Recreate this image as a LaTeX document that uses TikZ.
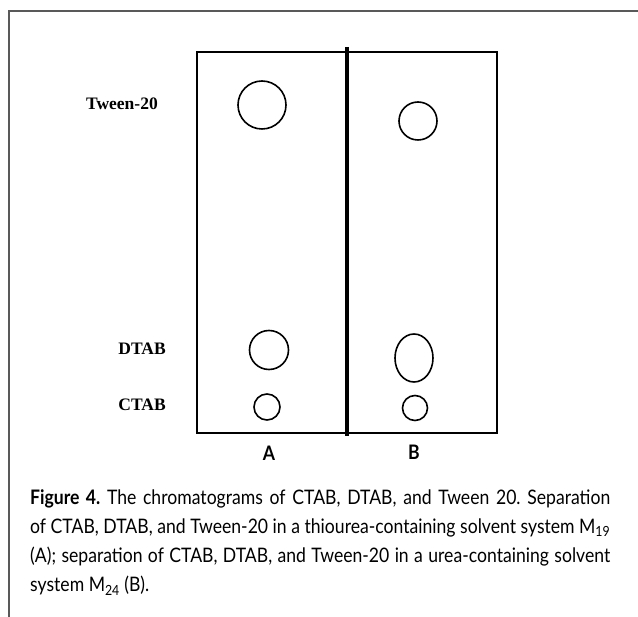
\documentclass[tikz,border=0pt]{standalone}
\usepackage{fontspec}
\setmainfont{Liberation Serif}
\newfontfamily\capfont[FakeStretch=0.88]{Lato}
\usetikzlibrary{shapes.geometric}
\begin{document}
\begin{tikzpicture}[x=1pt,y=-1pt,
  spot/.style={draw,circle,line width=1.6pt,inner sep=0pt,minimum size=#1},
  oval/.style={draw,ellipse,line width=1.6pt,inner sep=0pt,minimum width=#1},
  lbl/.style={font=\bfseries\fontsize{17.5}{20}\selectfont,inner sep=0pt},
  lane/.style={font=\capfont\bfseries\fontsize{20}{24}\selectfont,inner sep=0pt},
  frame/.style={draw=black!65,line width=1.3pt}]
\useasboundingbox (0,0) rectangle (638,617);
\fill[white] (0,0) rectangle (638,617);
\draw[frame] (638,11) -- (9,11) -- (9,617);
% plate
\node[draw,line width=1.6pt,inner sep=0pt,minimum width=300pt,minimum height=381pt,anchor=north west] (plate) at (196,51) {};
\coordinate (dtop) at (347,47);
\coordinate (dbot) at (347,436);
\draw[line width=3.6pt] (dtop) -- (dbot);
% spots lane A
\node[spot=48pt] (tA) at (262,105) {};
\node[spot=39pt] (dA) at (269,350) {};
\node[spot=26pt] (cA) at (267,407) {};
% spots lane B
\node[spot=38pt] (tB) at (418,121) {};
\node[oval=38pt,minimum height=48pt] (dB) at (414,358) {};
\node[spot=25pt] (cB) at (415,408) {};
% labels
\node[lbl,anchor=east] (lt) at (158,104) {Tween-20};
\node[lbl,anchor=east] (ld) at (166,349) {DTAB};
\node[lbl,anchor=east] (lc) at (166,405) {CTAB};
\node[lane] (la) at (269,453) {A};
\node[lane] (lb) at (414,452) {B};
% caption
\node[anchor=north west,text width=580pt,align=justify,inner sep=0pt,
  font=\capfont\fontsize{20}{29.3}\selectfont] (cap) at (30,489)
{\frenchspacing\textbf{Figure 4.} The chromatograms of CTAB, DTAB, and Tween 20. Separation\linebreak
of CTAB, DTAB, and Tween-20 in a thiourea-containing solvent system M\textsubscript{19}\linebreak
(A); separation of CTAB, DTAB, and Tween-20 in a urea-containing solvent\linebreak
system M\textsubscript{24} (B).\par};
\end{tikzpicture}
\end{document}
